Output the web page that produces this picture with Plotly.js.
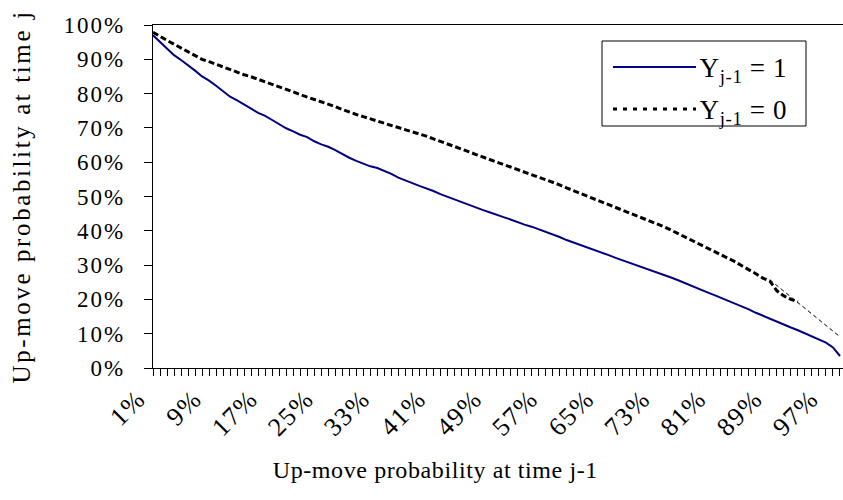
<!DOCTYPE html>
<html>
<head>
<meta charset="utf-8">
<script src="https://cdn.plot.ly/plotly-3.0.1.min.js"></script>
<style>
html,body{margin:0;padding:0;background:#fff;}
#chart{width:843px;height:500px;}
#chart .ytick text{letter-spacing:2px;}
#chart .xtick text{letter-spacing:1.5px;}
#chart .ytitle{letter-spacing:2.6px;}
#chart .annotation-text{letter-spacing:0.6px;}
</style>
</head>
<body>
<div id="chart"></div>
<script>
// Categories: up-move probability at time j-1 (percent)
var categories = [1,2,3,4,5,6,7,8,9,10,11,12,13,14,15,16,17,18,19,20,21,22,23,24,25,26,27,28,29,30,
31,32,33,34,35,36,37,38,39,40,41,42,43,44,45,46,47,48,49,50,51,52,53,54,55,56,57,58,59,60,
61,62,63,64,65,66,67,68,69,70,71,72,73,74,75,76,77,78,79,80,81,82,83,84,85,86,87,88,89,90,
91,92,93,94,95,96,97,98,99];

// Series Y(j-1) = 1 (solid navy)
var seriesY1 = [97.0,95.0,92.9,91.2,89.8,88.3,86.7,85.0,83.8,82.3,80.6,79.1,78.0,76.9,75.6,74.4,73.5,72.3,71.0,69.9,
69.0,68.0,67.3,66.1,65.2,64.5,63.5,62.3,61.3,60.4,59.6,58.8,58.3,57.5,56.6,55.5,54.6,53.9,53.1,52.4,
51.6,50.7,49.9,49.2,48.5,47.7,46.9,46.1,45.4,44.8,44.0,43.3,42.5,41.8,41.2,40.5,39.8,39.0,38.2,37.3,
36.6,35.9,35.0,34.3,33.6,32.9,32.1,31.4,30.7,30.0,29.3,28.6,27.9,27.1,26.3,25.5,24.6,23.7,22.9,22.1,
21.3,20.5,19.7,18.9,18.0,17.1,16.1,15.2,14.3,13.4,12.5,11.8,11.0,10.1,9.3,8.3,7.4,6.0,3.5];

// Series Y(j-1) = 0 (thick dashed black)
var seriesY0 = [97.9,96.6,95.5,94.4,93.3,92.2,91.1,90.0,89.3,88.5,87.7,86.9,86.2,85.5,84.9,84.2,83.5,82.8,82.0,81.3,
80.5,79.7,79.0,78.4,77.8,77.0,76.2,75.4,74.6,73.9,73.3,72.6,72.0,71.4,70.7,70.1,69.5,68.9,68.3,67.6,
66.8,66.1,65.3,64.6,63.9,63.1,62.3,61.5,60.7,60.0,59.3,58.6,57.8,57.0,56.3,55.6,54.9,54.2,53.4,52.5,
51.7,50.9,50.1,49.3,48.5,47.7,46.9,46.1,45.3,44.5,43.6,42.8,42.0,41.1,40.1,39.1,38.1,37.0,36.0,35.1,
34.2,33.2,32.1,31.0,29.8,28.7,27.5,26.2,25.3,22.5,21.0,20.0,19.3,null,null,null,null,null,null];

// Thin dashed tail of the Y(j-1)=0 series
var tailX = [89, 99];
var tailY0 = [25.7, 9.1];

// Tick labels on the category axis
var tickCats = [1,9,17,25,33,41,49,57,65,73,81,89,97];
var tickLabels = ["1%","9%","17%","25%","33%","41%","49%","57%","65%","73%","81%","89%","97%"];

var FONT = "Liberation Serif, Times New Roman, serif";

var traces = [
  {x: categories, y: seriesY1, type: 'scatter', mode: 'lines', name: 'Y1',
   line: {color: '#000080', width: 2}, showlegend: false, hoverinfo: 'skip'},
  {x: categories, y: seriesY0, type: 'scatter', mode: 'lines', name: 'Y0',
   line: {color: '#000000', width: 3, dash: '6px,3px'}, showlegend: false, hoverinfo: 'skip'},
  {x: tailX, y: tailY0, type: 'scatter', mode: 'lines', name: 'Y0 tail',
   line: {color: '#000000', width: 1, dash: '4px,3px'}, showlegend: false, hoverinfo: 'skip'}
];

var layout = {
  width: 843, height: 500,
  margin: {l: 153, r: 0, t: 25, b: 132},
  paper_bgcolor: '#ffffff', plot_bgcolor: '#ffffff',
  font: {family: FONT, color: '#000', size: 23},
  xaxis: {
    type: 'linear', range: [1, 99.43], showgrid: false, zeroline: false,
    showline: true, linecolor: '#000', linewidth: 1.3, mirror: true,
    tickmode: 'array', tickvals: tickCats, ticktext: tickLabels,
    ticks: 'outside', ticklen: 7, tickcolor: '#000', tickwidth: 1,
    tickangle: -45, tickfont: {family: FONT, size: 26, color: '#000'},
    ticklabelshift: -15, ticklabelstandoff: -3,
    minor: {tick0: 1, dtick: 1, ticks: 'outside', ticklen: 7, tickcolor: '#000', tickwidth: 1, showgrid: false}
  },
  yaxis: {
    range: [0, 100], dtick: 10, tick0: 0, ticksuffix: '%',
    showgrid: false, zeroline: false,
    showline: true, linecolor: '#000', linewidth: 1.3,
    ticks: 'outside', ticklen: 8, tickcolor: '#000', tickwidth: 1,
    tickfont: {family: FONT, size: 23, color: '#000'},
    ticklabelstandoff: 14,
    title: {text: 'Up-move probability at time j', font: {family: FONT, size: 25, color: '#000'}, standoff: 33}
  },
  shapes: [
    {type: 'rect', xref: 'paper', yref: 'paper', x0: (602-153)/690, x1: (806-153)/690, y0: (368-126)/343, y1: (368-41)/343,
     line: {color: '#000', width: 1}, fillcolor: '#fff'},
    {type: 'line', xref: 'paper', yref: 'paper', x0: (613-153)/690, x1: (696-153)/690, y0: (368-67)/343, y1: (368-67)/343,
     line: {color: '#000080', width: 2}},
    {type: 'line', xref: 'paper', yref: 'paper', x0: (613-153)/690, x1: (696-153)/690, y0: (368-109)/343, y1: (368-109)/343,
     line: {color: '#000', width: 3, dash: '4px,6px'}}
  ],
  annotations: [
    {xref: 'paper', yref: 'paper', x: (700-153)/690, y: (368-70)/343, xanchor: 'left', yanchor: 'middle',
     text: 'Y<sub>j-1</sub> = 1', showarrow: false, font: {family: FONT, size: 27, color: '#000'}},
    {xref: 'paper', yref: 'paper', x: (700-153)/690, y: (368-112)/343, xanchor: 'left', yanchor: 'middle',
     text: 'Y<sub>j-1</sub> = 0', showarrow: false, font: {family: FONT, size: 27, color: '#000'}},
    {xref: 'paper', yref: 'paper', x: (435-153)/690, y: (368-470)/343, xanchor: 'center', yanchor: 'middle',
     text: 'Up-move probability at time j-1', showarrow: false, font: {family: FONT, size: 24, color: '#000'}}
  ]
};

Plotly.newPlot('chart', traces, layout, {staticPlot: true, displayModeBar: false});
</script>
</body>
</html>
